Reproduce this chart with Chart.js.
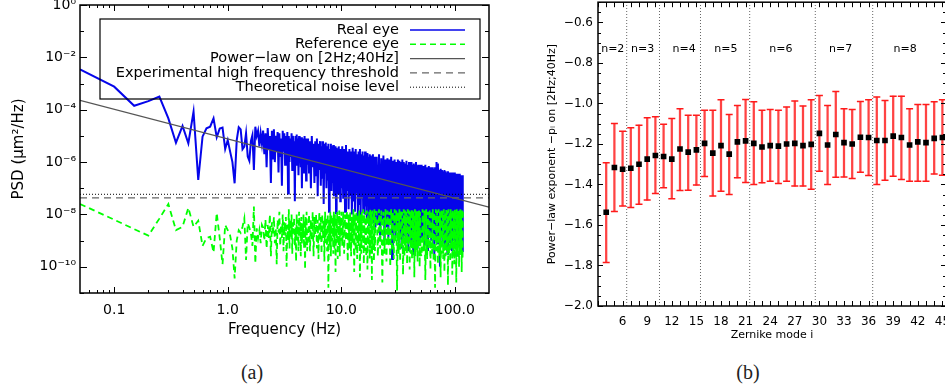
<!DOCTYPE html>
<html>
<head>
<meta charset="utf-8">
<script src="https://cdn.jsdelivr.net/npm/chart.js@4.4.1/dist/chart.umd.min.js"></script>
<style>
  html, body { margin: 0; padding: 0; background: #fff; overflow: hidden; width: 945px; height: 391px; }
  canvas { position: absolute; top: -10px; }
  .cap { position: absolute; top: 361px; width: 60px; text-align: center; font: 20px "Liberation Serif", serif; color: #222; line-height: 23px; }
</style>
</head>
<body>
<canvas id="psd" width="510" height="353" style="left:0;width:510px;height:353px"></canvas>
<canvas id="expo" width="440" height="356" style="left:520px;width:440px;height:356px"></canvas>
<div class="cap" style="left:222px">(a)</div>
<div class="cap" style="left:718px">(b)</div>
<script>
/* ── PANEL (a) DATA : PSD, values as log10(µm²/Hz) ── */
const freqHz = [
  0.05,0.1,0.15,0.2,0.25,0.3,0.35,0.4,0.45,0.5,0.55,0.6,0.65,0.7,0.75,0.8,0.85,0.9,0.95,1.0,
  1.05,1.1,1.15,1.2,1.25,1.3,1.35,1.4,1.45,1.5,1.55,1.6,1.65,1.7,1.75,1.8,1.85,1.9,1.95,2.0,
  2.05,2.1,2.15,2.2,2.25,2.3,2.35,2.4,2.45,2.5,2.55,2.6,2.65,2.7,2.75,2.8,2.85,2.9,2.95,3.0,
  3.05,3.1,3.15,3.2,3.25,3.3,3.35,3.4,3.45,3.5,3.55,3.6,3.65,3.7,3.75,3.8,3.85,3.9,3.95,4.0,
  4.05,4.1,4.15,4.2,4.25,4.3,4.35,4.4,4.45,4.5,4.55,4.6,4.65,4.7,4.75,4.8,4.85,4.9,4.95,5.0,
  5.1,5.2,5.3,5.4,5.5,5.6,5.7,5.8,5.9,6.0,6.1,6.2,6.3,6.4,6.5,6.6,6.7,6.8,6.9,7.0,
  7.1,7.2,7.3,7.4,7.5,7.6,7.7,7.8,7.9,8.0,8.1,8.2,8.3,8.4,8.5,8.6,8.7,8.8,8.9,9.0,
  9.1,9.2,9.3,9.4,9.5,9.6,9.7,9.8,9.9,10.0,
  10.2,10.4,10.6,10.8,11.0,11.2,11.4,11.6,11.8,12.0,12.2,12.4,12.6,12.8,13.0,13.2,13.4,13.6,13.8,14.0,
  14.2,14.4,14.6,14.8,15.0,15.2,15.4,15.6,15.8,16.0,16.2,16.4,16.6,16.8,17.0,17.2,17.4,17.6,17.8,18.0,
  18.2,18.4,18.6,18.8,19.0,19.2,19.4,19.6,19.8,20.0,
  20.5,21,21.5,22,22.5,23,23.5,24,24.5,25,25.5,26,26.5,27,27.5,28,28.5,29,29.5,30,
  30.5,31,31.5,32,32.5,33,33.5,34,34.5,35,35.5,36,36.5,37,37.5,38,38.5,39,39.5,40,
  40.5,41,41.5,42,42.5,43,43.5,44,44.5,45,45.5,46,46.5,47,47.5,48,48.5,49,49.5,50,
  51,52,53,54,55,56,57,58,59,60,61,62,63,64,65,66,67,68,69,70,71,72,73,74,75,76,77,78,79,80,
  81,82,83,84,85,86,87,88,89,90,91,92,93,94,95,96,97,98,99,100,101,102,103,104,105,106,107,108,109,110,
  111,112,113,114,115,116,117,118
];
const realEyeLog = [
  -2.46,-3.12,-3.85,-3.67,-3.50,-4.33,-5.26,-4.62,-5.28,-4.07,
  -6.68,-5.03,-4.71,-4.65,-4.33,-5.05,-4.72,-4.68,-5.50,-5.16,
  -5.6,-6.0,-6.81,-5.16,-4.67,-4.75,-5.51,-5.41,-4.90,-5.79,
  -5.95,-5.20,-4.97,-6.30,-4.65,-5.0,-4.8,-5.4,-4.9,-5.3,
  -4.8,-5.7,-4.9,-6.2,-4.7,-5.5,-5.0,-6.8,-4.8,-5.9,
  -4.75,-6.0,-5.0,-5.6,-4.85,-6.4,-4.9,-5.8,-5.1,-6.9,
  -4.8,-5.6,-4.9,-6.1,-5.0,-5.7,-4.85,-7.2,-5.0,-6.0,
  -5.1,-5.8,-4.9,-6.3,-5.0,-5.6,-5.2,-7.5,-5.0,-6.1,
  -4.95,-5.9,-5.1,-6.5,-5.0,-5.8,-5.2,-6.2,-5.05,-7.0,
  -5.1,-5.9,-5.2,-6.4,-5.0,-6.0,-5.3,-6.7,-5.1,-6.1,
  -5.1,-6.4,-5.2,-7.0,-5.0,-6.2,-5.3,-6.8,-5.2,-6.5,
  -5.1,-7.3,-5.3,-6.3,-5.2,-6.9,-5.4,-6.6,-5.2,-7.6,
  -5.3,-6.4,-5.25,-7.0,-5.4,-6.7,-5.3,-7.9,-5.5,-6.5,
  -5.3,-7.1,-5.4,-6.8,-5.35,-7.3,-5.5,-6.6,-5.4,-7.95,
  -5.45,-6.9,-5.5,-7.2,-5.4,-6.7,-5.6,-7.5,-5.5,-7.0,
  -5.4,-7.4,-5.5,-7.9,-5.35,-7.1,-5.6,-7.8,-5.5,-7.3,
  -5.6,-8.0,-5.45,-7.5,-5.6,-7.9,-5.5,-7.2,-5.7,-8.1,
  -5.6,-7.6,-5.5,-8.3,-5.7,-7.4,-5.6,-7.9,-5.75,-8.0,
  -5.6,-7.7,-5.7,-8.2,-5.65,-7.5,-5.8,-8.4,-5.7,-7.8,
  -5.75,-8.1,-5.8,-7.6,-5.7,-8.3,-5.85,-7.9,-5.8,-8.5,
  -5.8,-8.4,-5.7,-8.8,-5.85,-8.2,-5.75,-9.0,-5.9,-8.5,
  -5.85,-8.9,-5.9,-8.3,-5.8,-9.7,-5.95,-8.6,-5.9,-8.9,
  -6.0,-8.4,-5.9,-9.1,-5.95,-8.7,-6.0,-9.3,-5.9,-8.8,
  -6.0,-8.5,-6.05,-9.0,-5.95,-8.7,-6.1,-9.4,-6.0,-8.6,
  -6.05,-9.1,-6.0,-8.8,-6.1,-9.5,-6.05,-8.9,-6.1,-9.2,
  -6.0,-8.7,-6.15,-9.3,-6.1,-8.8,-6.1,-9.0,-6.15,-8.9,
  -6.1,-8.9,-6.15,-9.2,-6.1,-8.6,-6.2,-9.4,-6.15,-8.8,
  -6.2,-9.0,-6.2,-8.7,-6.25,-9.6,-6.2,-8.9,-6.0,-9.1,
  -6.05,-8.8,-6.3,-10.0,-6.25,-8.7,-6.3,-9.2,-6.35,-8.9,
  -6.3,-9.3,-6.35,-8.8,-6.4,-9.5,-6.35,-8.9,-6.4,-9.1,
  -6.4,-8.8,-6.45,-9.4,-6.4,-9.0,-6.45,-8.8,-6.4,-9.2,
  -6.45,-8.9,-6.5,-9.6,-6.45,-9.0,-6.5,-8.8,-6.45,-9.3,
  -6.5,-9.1,-6.5,-8.9,-6.55,-9.4,-6.5,-9.0
];
const refEyeLog = [
  -7.6,-8.2,-8.56,-8.81,-8.16,-7.6,-8.6,-8.47,-7.75,-8.47,
  -8.24,-9.2,-8.9,-8.85,-9.45,-7.94,-8.9,-9.9,-8.4,-8.6,
  -8.8,-9.3,-10.44,-9.0,-8.6,-8.7,-8.47,-8.15,-9.74,-8.34,
  -8.5,-8.72,-9.2,-7.7,-9.87,-8.53,-8.9,-8.6,-9.1,-8.4,
  -8.5,-9.0,-8.2,-9.3,-8.4,-8.9,-8.0,-9.6,-8.3,-8.8,
  -8.1,-9.1,-8.5,-9.9,-8.2,-8.7,-7.9,-9.2,-8.4,-8.9,
  -8.0,-9.4,-8.3,-8.8,-8.1,-10.0,-8.4,-9.0,-7.8,-9.3,
  -8.2,-8.9,-8.0,-9.5,-8.3,-8.7,-8.1,-9.2,-8.5,-9.8,
  -8.0,-9.0,-8.2,-9.4,-7.9,-8.8,-8.3,-9.6,-8.1,-9.1,
  -8.4,-8.9,-8.0,-9.3,-8.2,-10.1,-8.1,-9.0,-7.9,-9.4,
  -8.9,-8.0,-9.4,-8.2,-9.0,-7.9,-9.6,-8.1,-8.8,-8.0,
  -9.3,-8.2,-9.7,-7.9,-9.0,-8.1,-9.5,-8.0,-8.9,-8.2,
  -9.8,-7.9,-9.1,-8.1,-9.4,-8.0,-10.8,-8.2,-9.2,-7.9,
  -9.6,-8.0,-9.0,-8.1,-9.5,-7.9,-9.3,-8.0,-10.2,-8.1,
  -9.1,-7.9,-9.7,-8.0,-9.2,-7.85,-9.6,-8.1,-9.0,-7.9,
  -9.2,-7.9,-9.5,-8.0,-9.0,-7.85,-9.8,-8.0,-9.3,-7.9,
  -9.6,-8.1,-9.1,-7.8,-10.2,-8.0,-9.4,-7.9,-9.7,-8.0,
  -9.2,-7.85,-10.4,-8.0,-9.5,-7.9,-9.3,-7.8,-9.9,-8.0,
  -9.4,-7.9,-9.6,-7.85,-10.1,-8.0,-9.2,-7.9,-9.7,-7.8,
  -9.5,-7.9,-10.5,-7.85,-9.3,-7.9,-9.8,-7.8,-9.4,-7.9,
  -7.9,-9.6,-7.8,-9.3,-7.85,-10.6,-7.9,-9.5,-7.8,-9.8,
  -7.85,-9.2,-7.9,-10.0,-7.8,-9.4,-7.9,-9.7,-7.8,-9.1,
  -7.85,-10.9,-7.9,-9.5,-7.8,-9.8,-7.85,-9.3,-7.9,-10.3,
  -7.8,-9.6,-7.85,-9.4,-7.9,-9.9,-7.8,-9.2,-7.85,-10.1,
  -7.9,-9.5,-7.8,-9.7,-7.85,-9.3,-7.9,-10.4,-7.8,-9.6,
  -7.85,-9.4,-7.9,-9.8,-7.8,-9.2,-7.85,-10.0,-7.9,-9.5,
  -9.6,-7.8,-9.4,-7.85,-10.5,-7.8,-9.7,-7.9,-9.3,-7.8,
  -10.1,-7.85,-9.5,-7.8,-9.8,-7.9,-10.8,-7.8,-9.4,-7.85,
  -9.9,-7.8,-9.6,-7.9,-10.4,-7.8,-9.5,-7.85,-9.7,-7.8,
  -10.2,-7.9,-9.6,-7.8,-9.4,-7.85,-10.7,-7.8,-9.5,-7.9,
  -9.8,-7.8,-9.3,-7.85,-10.3,-7.8,-9.6,-7.9,-9.9,-7.8,
  -9.4,-7.85,-10.6,-7.8,-9.5,-7.9,-9.7,-7.8,-10.0,-7.85,
  -9.6,-7.8,-9.4,-7.9,-10.2,-7.8,-9.7,-7.9
];
const powerLawHz  = [0.05, 200];
const powerLawLog = [-3.64, -7.72];
const thresholdLog = -7.37;
const noiseLog = -7.23;

const xTickHz     = [0.1, 1, 10, 100];
const xTickLabels = ["0.1", "1.0", "10.0", "100.0"];
const yTickExp    = [-10, -8, -6, -4, -2, 0];
const yTickLabels = ["10⁻¹⁰", "10⁻⁸", "10⁻⁶", "10⁻⁴", "10⁻²", "10⁰"];

/* ── PANEL (b) DATA : power-law exponent per Zernike mode ── */
const zernikeMode = [4,5,6,7,8,9,10,11,12,13,14,15,16,17,18,19,20,21,22,23,24,25,26,27,28,29,30,31,32,33,34,35,36,37,38,39,40,41,42,43,44,45];
const exponent = [
  -1.537,-1.316,-1.325,-1.320,-1.300,-1.275,-1.257,-1.262,-1.275,-1.225,-1.240,-1.229,-1.197,-1.245,
  -1.208,-1.250,-1.190,-1.185,-1.197,-1.215,-1.208,-1.211,-1.200,-1.197,-1.208,-1.202,-1.148,-1.205,
  -1.153,-1.193,-1.200,-1.167,-1.168,-1.183,-1.183,-1.161,-1.168,-1.205,-1.190,-1.193,-1.172,-1.168
];
const errUpper = [
  -1.293,-1.099,-1.137,-1.120,-1.107,-1.070,-1.065,-1.103,-1.074,-1.026,-1.058,-1.058,-1.034,-1.034,
  -0.982,-1.055,-1.010,-0.980,-0.992,-1.034,-1.030,-1.034,-1.018,-0.988,-1.013,-0.982,-0.961,-1.010,
  -0.941,-1.026,-1.030,-0.990,-0.982,-0.968,-0.985,-0.964,-0.964,-1.026,-1.005,-1.005,-0.992,-0.982
];
const errLower = [
  -1.785,-1.533,-1.506,-1.514,-1.498,-1.477,-1.445,-1.416,-1.470,-1.430,-1.428,-1.403,-1.360,-1.457,
  -1.433,-1.449,-1.367,-1.390,-1.400,-1.392,-1.384,-1.395,-1.384,-1.408,-1.408,-1.424,-1.335,-1.400,
  -1.364,-1.363,-1.371,-1.340,-1.356,-1.400,-1.379,-1.359,-1.375,-1.384,-1.384,-1.384,-1.348,-1.355
];
const radialBounds = [6.5, 10.5, 15.5, 21.5, 29.5, 36.5];
const radialNames  = ["n=2", "n=3", "n=4", "n=5", "n=6", "n=7", "n=8"];
const radialNameX  = [4.8, 8.45, 13.5, 18.6, 25.3, 32.6, 40.45];
const radialNameY  = -0.73;
const bTickX = [6, 9, 12, 15, 18, 21, 24, 27, 30, 33, 36, 39, 42, 45];
const bTickY = [-2.0, -1.8, -1.6, -1.4, -1.2, -1.0, -0.8, -0.6];

const FONT = "'DejaVu Sans'";

/* ── IDL-style frame: box + inward ticks on all four sides ── */
function idlFrame(xTicks, yTicks, lw) {
  return {
    id: "idlFrame",
    afterDatasetsDraw(chart) {
      const { ctx, chartArea: a, scales: { x, y } } = chart;
      ctx.save();
      ctx.strokeStyle = "#000"; ctx.lineWidth = 1; ctx.setLineDash([]);
      ctx.beginPath();
      xTicks.forEach(([v, len]) => {
        const px = Math.round(x.getPixelForValue(v)) + 0.5;
        ctx.moveTo(px, a.bottom); ctx.lineTo(px, a.bottom - len);
        ctx.moveTo(px, a.top);    ctx.lineTo(px, a.top + len);
      });
      yTicks.forEach(([v, len]) => {
        const py = Math.round(y.getPixelForValue(v)) + 0.5;
        ctx.moveTo(a.left, py);  ctx.lineTo(a.left + len, py);
        ctx.moveTo(a.right, py); ctx.lineTo(a.right - len, py);
      });
      ctx.stroke();
      ctx.lineWidth = lw;
      ctx.strokeRect(a.left, a.top, a.right - a.left, a.bottom - a.top);
      ctx.restore();
    }
  };
}

/* ── legend of panel (a): text right-aligned, sample on the right ── */
const psdLegend = {
  id: "psdLegend",
  afterDatasetsDraw(chart) {
    const { ctx, chartArea: a } = chart;
    const l = a.left + 20, t = a.top + 14, r = a.right - 9, b = a.top + 94;
    ctx.save();
    ctx.strokeStyle = "#000"; ctx.lineWidth = 1.2;
    ctx.strokeRect(l, t, r - l, b - t);
    ctx.font = `14.5px ${FONT}`; ctx.textAlign = "right"; ctx.textBaseline = "middle"; ctx.fillStyle = "#000";
    chart.data.datasets.forEach((ds, row) => {
      const yy = t + 11 + row * 14.3;
      ctx.fillText(ds.label, r - 81, yy);
      ctx.beginPath();
      ctx.setLineDash(ds.borderDash || []);
      ctx.strokeStyle = ds.borderColor; ctx.lineWidth = Math.min(ds.borderWidth, 1.5);
      ctx.moveTo(r - 70, yy); ctx.lineTo(r - 15, yy); ctx.stroke();
    });
    ctx.restore();
  }
};

/* ── PANEL (a) ── */
const aMinorX = [];
for (let d = -2; d <= 2; d++) for (let m = 2; m <= 9; m++) {
  const v = m * Math.pow(10, d);
  if (v > 0.05 && v < 200) aMinorX.push([v, 3]);
}
const aTicksX = xTickHz.map(v => [v, 6]).concat(aMinorX);
const aTicksY = [];
for (let e = -11; e <= 0; e++) aTicksY.push([Math.pow(10, e), e % 2 === 0 ? 7 : 4]);

const pts = (xs, logs) => xs.map((f, i) => ({ x: f, y: Math.pow(10, logs[i]) }));
const flat = v => [{ x: powerLawHz[0], y: Math.pow(10, v) }, { x: powerLawHz[1], y: Math.pow(10, v) }];

new Chart(document.getElementById("psd"), {
  type: "line",
  data: {
    datasets: [
      { label: "Real eye", data: pts(freqHz, realEyeLog), borderColor: "#0505ea", borderWidth: 2, order: 3 },
      { label: "Reference eye", data: pts(freqHz, refEyeLog), borderColor: "#00ff00", borderWidth: 1.8, borderDash: [6, 4], order: 2 },
      { label: "Power−law on [2Hz;40Hz]", data: pts(powerLawHz, powerLawLog), borderColor: "#555", borderWidth: 1.2, order: 0 },
      { label: "Experimental high frequency threshold", data: flat(thresholdLog), borderColor: "#666", borderWidth: 1.2, borderDash: [7, 5], order: 0 },
      { label: "Theoretical noise level", data: flat(noiseLog), borderColor: "#000", borderWidth: 1, borderDash: [1, 2], order: 1 }
    ]
  },
  options: {
    responsive: false, animation: false, devicePixelRatio: 1,
    elements: { point: { radius: 0 }, line: { tension: 0 } },
    layout: { padding: { left: 6, right: 21, top: 15, bottom: 0 } },
    plugins: { legend: { display: false }, tooltip: { enabled: false } },
    scales: {
      x: {
        type: "logarithmic", min: 0.05, max: 200,
        grid: { display: false, drawTicks: false }, border: { display: false },
        afterBuildTicks: s => { s.ticks = xTickHz.map(v => ({ value: v })); },
        afterFit: s => { s.height = 50; },
        ticks: { autoSkip: false, maxRotation: 0, padding: 9, color: "#000", font: { family: FONT, size: 14 },
                 callback: (v, i) => xTickLabels[i] },
        title: { display: true, text: "Frequency (Hz)", color: "#000", font: { family: FONT, size: 15 }, padding: { top: 4, bottom: 4 } }
      },
      y: {
        type: "logarithmic", min: 1e-11, max: 1,
        grid: { display: false, drawTicks: false }, border: { display: false },
        afterBuildTicks: s => { s.ticks = yTickExp.map(e => ({ value: Math.pow(10, e) })); },
        afterFit: s => { s.width = 74; },
        ticks: { autoSkip: false, padding: 4, color: "#000", font: { family: FONT, size: 14 },
                 callback: (v, i) => yTickLabels[i] },
        title: { display: true, text: "PSD (μm²/Hz)", color: "#000", font: { family: FONT, size: 15 }, padding: { top: 4, bottom: 4 } }
      }
    }
  },
  plugins: [idlFrame(aTicksX, aTicksY, 1.5), psdLegend]
});

/* ── PANEL (b) ── */
const bTicksX = [];
for (let i = 3; i <= 45; i++) bTicksX.push([i, 5]);
const bTicksY = [];
for (let k = 0; k <= 30; k++) bTicksY.push([-2 + k * 0.05, k % 4 === 0 ? 5 : 3]);

const nLabels = {
  id: "nLabels",
  afterDatasetsDraw(chart) {
    const { ctx, scales: { x, y } } = chart;
    ctx.save();
    ctx.font = `11px ${FONT}`; ctx.fillStyle = "#000"; ctx.textAlign = "center"; ctx.textBaseline = "middle";
    radialNames.forEach((t, k) => ctx.fillText(t, x.getPixelForValue(radialNameX[k]), y.getPixelForValue(radialNameY)));
    ctx.restore();
  }
};

const boundSets = radialBounds.map(b => ({
  type: "line", data: [{ x: b, y: -2 }, { x: b, y: -0.5 }],
  borderColor: "#666", borderWidth: 1, borderDash: [1, 2], pointRadius: 0, order: 3
}));

new Chart(document.getElementById("expo"), {
  type: "scatter",
  data: {
    datasets: [
      { type: "scatter", data: zernikeMode.map((m, k) => ({ x: m, y: exponent[k] })),
        pointStyle: "rect", pointRadius: 4, backgroundColor: "#000", borderColor: "#000", borderWidth: 0, order: 0 },
      { type: "scatter", data: zernikeMode.map((m, k) => ({ x: m, y: errUpper[k] })).concat(zernikeMode.map((m, k) => ({ x: m, y: errLower[k] }))),
        pointStyle: "line", pointRadius: 3.5, borderColor: "#ff1a1a", borderWidth: 1.5, order: 1 },
      { type: "bar", data: zernikeMode.map((m, k) => ({ x: m, y: [errLower[k], errUpper[k]] })),
        backgroundColor: "rgba(255,20,20,0.8)", barThickness: 1.6, grouped: false, order: 2 },
      ...boundSets
    ]
  },
  options: {
    responsive: false, animation: false, devicePixelRatio: 1,
    layout: { padding: { left: 22, right: 14, top: 11, bottom: 0 } },
    plugins: { legend: { display: false }, tooltip: { enabled: false } },
    scales: {
      x: {
        type: "linear", min: 3, max: 45.44, offset: false,
        grid: { display: false, drawTicks: false }, border: { display: false },
        afterBuildTicks: s => { s.ticks = bTickX.map(v => ({ value: v })); },
        afterFit: s => { s.height = 40; },
        ticks: { autoSkip: false, maxRotation: 0, padding: 9, color: "#000", font: { family: FONT, size: 12 },
                 callback: v => String(v) },
        title: { display: true, text: "Zernike mode i", color: "#000", font: { family: FONT, size: 11 }, padding: { top: 4, bottom: 4 } }
      },
      y: {
        type: "linear", min: -2.0, max: -0.5,
        grid: { display: false, drawTicks: false }, border: { display: false },
        afterBuildTicks: s => { s.ticks = bTickY.map(v => ({ value: v })); },
        afterFit: s => { s.width = 56; },
        ticks: { autoSkip: false, padding: 5, color: "#000", font: { family: FONT, size: 12 },
                 callback: v => v.toFixed(1).replace("-", "−") },
        title: { display: true, text: "Power−law exponent −pᵢ on [2Hz;40Hz]", color: "#000", font: { family: FONT, size: 11 }, padding: { top: 4, bottom: 4 } }
      }
    }
  },
  plugins: [idlFrame(bTicksX, bTicksY, 1.5), nLabels]
});
</script>
</body>
</html>
